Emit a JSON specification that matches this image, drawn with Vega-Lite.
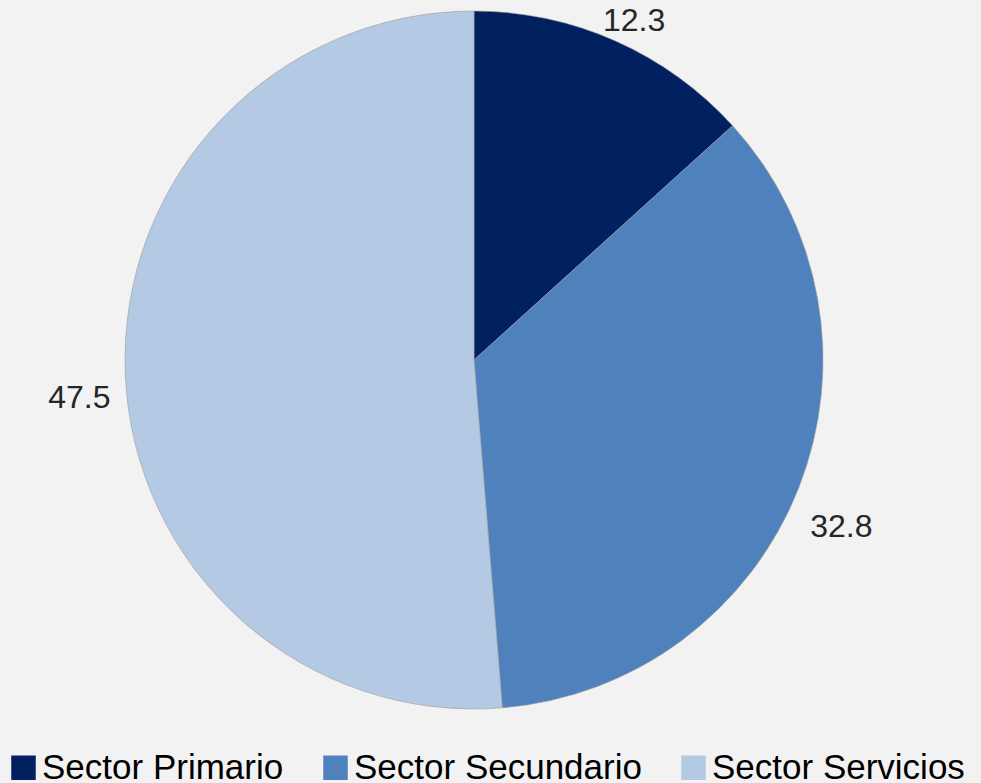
{
  "$schema": "https://vega.github.io/schema/vega-lite/v6.json",
  "width": 948,
  "height": 720,
  "autosize": {"type": "none"},
  "padding": {"left": 0, "top": 0, "right": 33, "bottom": 63},
  "background": "#f2f2f2",
  "config": {"font": "Liberation Sans", "view": {"stroke": null}},
  "data": {
    "values": [
      {"sector": "Sector Primario", "value": 12.3},
      {"sector": "Sector Secundario", "value": 32.8},
      {"sector": "Sector Servicios", "value": 47.5}
    ]
  },
  "encoding": {
    "theta": {"field": "value", "type": "quantitative", "stack": true},
    "order": {"field": "sector", "type": "ordinal"}
  },
  "layer": [
    {
      "mark": {"type": "arc", "outerRadius": 349, "stroke": "#9a9a9a", "strokeWidth": 0.6},
      "encoding": {
        "color": {
          "field": "sector",
          "type": "nominal",
          "scale": {
            "domain": ["Sector Primario", "Sector Secundario", "Sector Servicios"],
            "range": ["#002060", "#4f81bd", "#b4c9e3"]
          },
          "legend": {
            "orient": "none",
            "legendX": 6,
            "legendY": 750,
            "direction": "horizontal",
            "columns": 3,
            "title": null,
            "symbolType": "square",
            "symbolSize": 600,
            "symbolStrokeWidth": 0,
            "labelFontSize": 35,
            "labelFont": "Liberation Sans",
            "labelColor": "#000000",
            "labelLimit": 400,
            "labelOffset": 1,
            "columnPadding": 34,
            "padding": 0
          }
        }
      }
    },
    {
      "mark": {"type": "text", "radius": 395, "dy": 22, "fontSize": 32, "font": "Liberation Sans", "color": "#262626"},
      "encoding": {
        "detail": {"field": "sector", "type": "nominal"},
        "text": {"field": "value", "type": "quantitative", "format": ".1f"}
      }
    }
  ]
}
